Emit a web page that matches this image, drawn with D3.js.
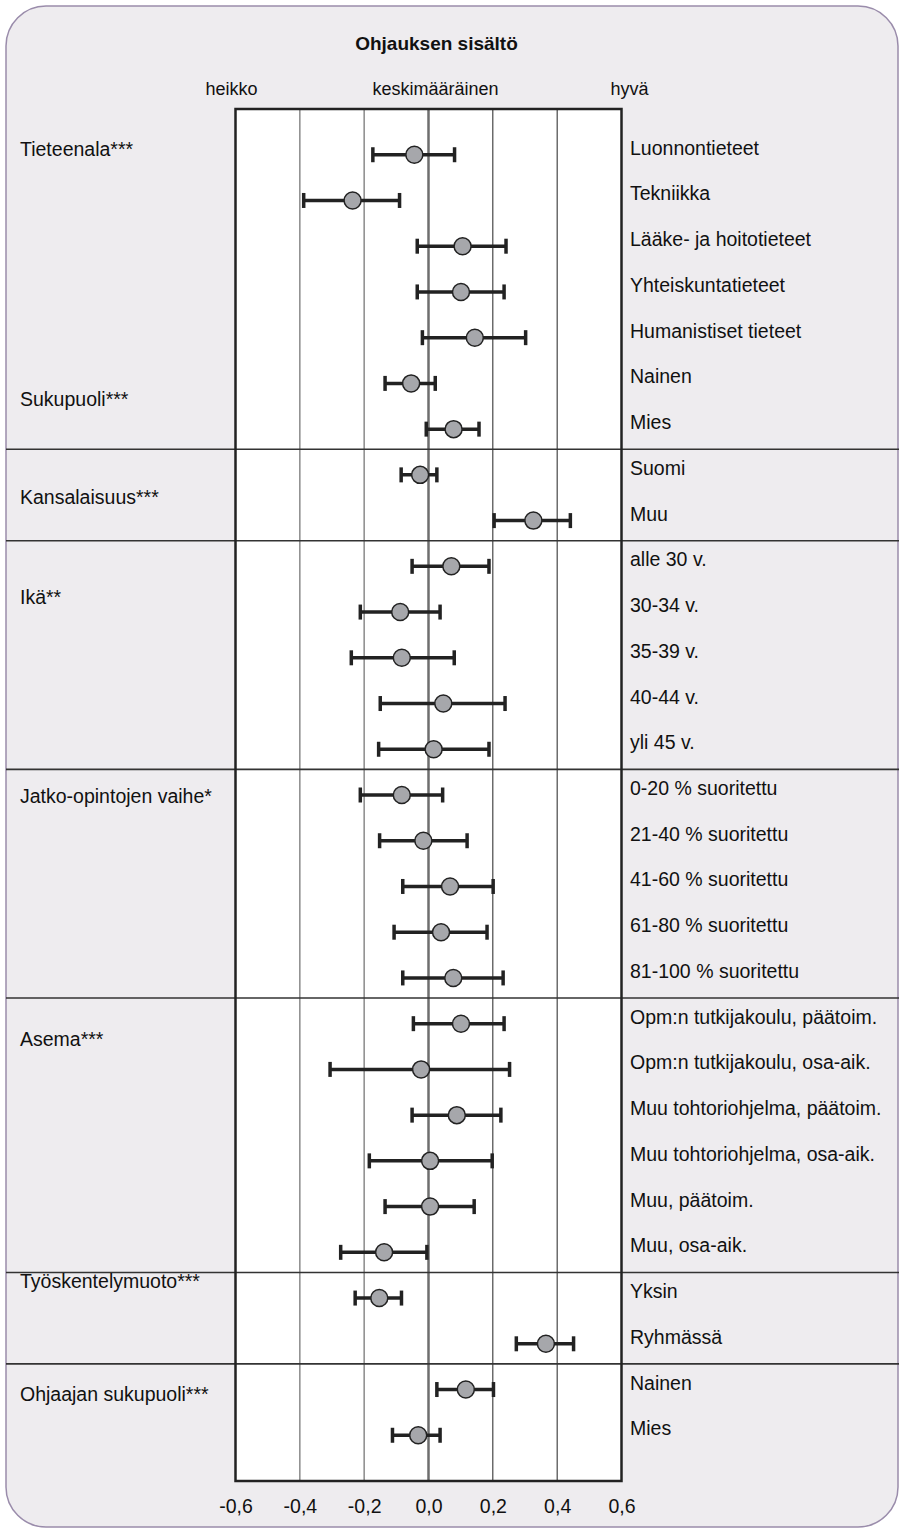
<!DOCTYPE html>
<html>
<head>
<meta charset="utf-8">
<script src="https://cdn.jsdelivr.net/npm/d3@7"></script>
<style>
  body { margin: 0; background: #fff; }
  text { font-family: "Liberation Sans", Arial, sans-serif; fill: #111; }
</style>
</head>
<body>
<div id="chart"></div>
<script>
// row labels, top to bottom
const categories = [
  "Luonnontieteet", "Tekniikka", "Lääke- ja hoitotieteet", "Yhteiskuntatieteet", "Humanistiset tieteet",
  "Nainen", "Mies",
  "Suomi", "Muu",
  "alle 30 v.", "30-34 v.", "35-39 v.", "40-44 v.", "yli 45 v.",
  "0-20 % suoritettu", "21-40 % suoritettu", "41-60 % suoritettu", "61-80 % suoritettu", "81-100 % suoritettu",
  "Opm:n tutkijakoulu, päätoim.", "Opm:n tutkijakoulu, osa-aik.", "Muu tohtoriohjelma, päätoim.",
  "Muu tohtoriohjelma, osa-aik.", "Muu, päätoim.", "Muu, osa-aik.",
  "Yksin", "Ryhmässä",
  "Nainen", "Mies"
];
const means = [-0.044, -0.236, 0.106, 0.101, 0.144, -0.054, 0.078,
  -0.026, 0.326,
  0.071, -0.088, -0.083, 0.046, 0.016,
  -0.083, -0.016, 0.067, 0.039, 0.077,
  0.101, -0.023, 0.088, 0.005, 0.005, -0.138,
  -0.153, 0.365,
  0.116, -0.032];
const lower = [-0.173, -0.388, -0.035, -0.035, -0.019, -0.135, -0.007,
  -0.085, 0.204,
  -0.051, -0.212, -0.240, -0.150, -0.155,
  -0.212, -0.152, -0.080, -0.107, -0.080,
  -0.047, -0.306, -0.051, -0.184, -0.135, -0.273,
  -0.228, 0.273,
  0.026, -0.112];
const upper = [0.081, -0.090, 0.241, 0.235, 0.302, 0.021, 0.157,
  0.026, 0.441,
  0.188, 0.036, 0.080, 0.238, 0.188,
  0.044, 0.120, 0.201, 0.182, 0.232,
  0.235, 0.252, 0.225, 0.198, 0.142, -0.005,
  -0.084, 0.451,
  0.202, 0.036];

// group names and the row where each label sits
const groupNames = ["Tieteenala***", "Sukupuoli***", "Kansalaisuus***", "Ikä**",
  "Jatko-opintojen vaihe*", "Asema***", "Työskentelymuoto***", "Ohjaajan sukupuoli***"];
const groupLabelRow = [0, 5.47, 7.62, 9.8, 14.15, 19.47, 24.76, 27.23];
// first row of each block separated by a line
const blockStarts = [7, 9, 14, 19, 25, 27];

const ticks = [-0.6, -0.4, -0.2, 0, 0.2, 0.4, 0.6];
const scaleWords = ["heikko", "keskimääräinen", "hyvä"];

const W = 899, H = 1529;
const svg = d3.select("#chart").append("svg")
  .attr("width", W).attr("height", H);

// panel
svg.append("rect")
  .attr("x", 6).attr("y", 6).attr("width", 892).attr("height", 1521)
  .attr("rx", 40).attr("ry", 40)
  .attr("fill", "#eeecef").attr("stroke", "#9a8cab").attr("stroke-width", 1.5);

const x = d3.scaleLinear().domain([-0.6, 0.6]).range([235.5, 621.5]);
const y = d3.scaleLinear().domain([-1, categories.length]).range([109, 1481]);

svg.append("rect")
  .attr("x", x(-0.6)).attr("y", y(-1))
  .attr("width", x(0.6) - x(-0.6)).attr("height", y(categories.length) - y(-1))
  .attr("fill", "#fff");

// grid
svg.selectAll(".grid").data(ticks.slice(1, -1)).enter().append("line")
  .attr("x1", d => x(d)).attr("x2", d => x(d))
  .attr("y1", y(-1)).attr("y2", y(categories.length))
  .attr("stroke", d => d === 0 ? "#6e6e6e" : (d < 0 ? "#8a8a8a" : "#222"))
  .attr("stroke-width", d => d === 0 ? 2.5 : (d < 0 ? 1.5 : 1));

// block separators
svg.selectAll(".sep").data(blockStarts).enter().append("line")
  .attr("x1", 6).attr("x2", W)
  .attr("y1", d => y(d - 0.56)).attr("y2", d => y(d - 0.56))
  .attr("stroke", "#333").attr("stroke-width", 1.6);

// frame
svg.append("rect")
  .attr("x", x(-0.6)).attr("y", y(-1))
  .attr("width", x(0.6) - x(-0.6)).attr("height", y(categories.length) - y(-1))
  .attr("fill", "none").attr("stroke", "#222").attr("stroke-width", 2.5);

// error bars
const rows = categories.map((c, i) => ({ name: c, i: i, m: means[i], lo: lower[i], hi: upper[i] }));
const bar = svg.selectAll(".bar").data(rows).enter().append("g");
bar.append("line")
  .attr("x1", d => x(d.lo)).attr("x2", d => x(d.hi))
  .attr("y1", d => y(d.i)).attr("y2", d => y(d.i))
  .attr("stroke", "#222").attr("stroke-width", 3.5);
bar.append("line")
  .attr("x1", d => x(d.lo)).attr("x2", d => x(d.lo))
  .attr("y1", d => y(d.i) - 7.5).attr("y2", d => y(d.i) + 7.5)
  .attr("stroke", "#222").attr("stroke-width", 3.5);
bar.append("line")
  .attr("x1", d => x(d.hi)).attr("x2", d => x(d.hi))
  .attr("y1", d => y(d.i) - 7.5).attr("y2", d => y(d.i) + 7.5)
  .attr("stroke", "#222").attr("stroke-width", 3.5);
bar.append("circle")
  .attr("cx", d => x(d.m)).attr("cy", d => y(d.i)).attr("r", 8.5)
  .attr("fill", "#a6a7ab").attr("stroke", "#222").attr("stroke-width", 1.5);

// row labels
svg.selectAll(".rowlab").data(rows).enter().append("text")
  .attr("x", 630).attr("y", d => y(d.i))
  .attr("font-size", 19.5)
  .text(d => d.name);

// group labels
svg.selectAll(".grouplab").data(groupNames).enter().append("text")
  .attr("x", 20).attr("y", (d, i) => y(groupLabelRow[i]) + 1)
  .attr("font-size", 19.5)
  .text(d => d);

// title + scale words
svg.append("text")
  .attr("x", x(0) + 8).attr("y", 50)
  .attr("text-anchor", "middle").attr("font-size", 19).attr("font-weight", "bold")
  .text("Ohjauksen sisältö");
svg.selectAll(".word").data(scaleWords).enter().append("text")
  .attr("x", (d, i) => x([-0.6, 0, 0.6][i]) + [-4, 7, 8][i])
  .attr("y", 95)
  .attr("text-anchor", "middle").attr("font-size", 18)
  .text(d => d);

// x axis
const axis = d3.axisBottom(x).tickValues(ticks).tickSize(0)
  .tickFormat(d => d3.format(".1f")(d).replace("−", "-").replace(".", ","));
const ax = svg.append("g").attr("transform", `translate(0,${y(categories.length)})`).call(axis);
ax.select(".domain").remove();
ax.selectAll("text")
  .attr("y", 32).attr("dy", 0)
  .attr("font-size", 19.5).attr("font-family", "Liberation Sans, Arial, sans-serif")
  .attr("fill", "#111");
</script>
</body>
</html>
